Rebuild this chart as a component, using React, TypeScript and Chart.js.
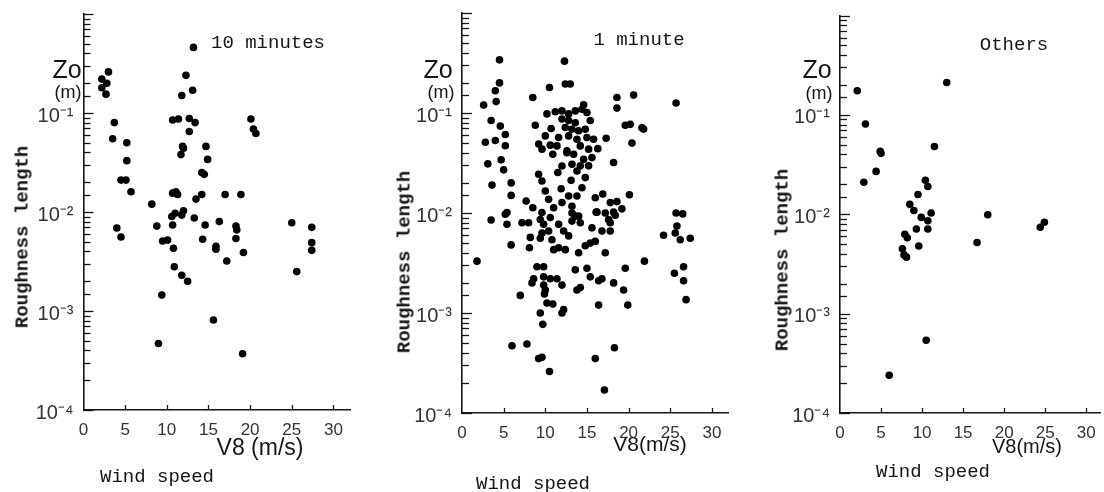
import React, { useEffect, useRef } from "react";
import { Chart, registerables } from "chart.js";
Chart.register(...registerables);

// ---- tick values / labels ----
const speedTicks = [0, 5, 10, 15, 20, 25, 30];
const decadeValues = [1e-4, 1e-3, 1e-2, 1e-1];
const decadeLabels = ["10⁻⁴", "10⁻³", "10⁻²", "10⁻¹"];

// ---- panel 1: 10 minutes ----
const tenMinSpeed = [
  13.2, 3.0, 2.2, 2.8, 2.2, 2.7, 12.3, 13.1, 11.8, 3.7,
  3.5, 10.7, 11.4, 12.7, 13.4, 12.7, 20.1, 20.4, 20.7, 5.2,
  11.9, 12.0, 11.7, 14.7, 14.9, 5.2, 14.2, 14.5, 4.5, 5.1,
  5.7, 8.2, 10.7, 11.3, 11.1, 13.5, 14.2, 17.0, 18.9, 10.6,
  11.0, 12.0, 11.8, 13.3, 4.0, 4.5, 8.8, 10.7, 9.5, 10.1,
  10.8, 14.6, 16.3, 14.3, 15.9, 15.9, 18.3, 18.4, 18.3, 19.2,
  17.2, 25.0, 27.4, 27.4, 27.4, 25.6, 10.9, 11.8, 12.5, 9.4,
  15.6, 9.0, 19.1,
];
const tenMinZ0 = [
  0.46, 0.26, 0.22, 0.2, 0.18, 0.155, 0.24, 0.17, 0.15, 0.08,
  0.055, 0.085, 0.087, 0.088, 0.08, 0.065, 0.087, 0.069, 0.062, 0.05,
  0.046, 0.044, 0.038, 0.046, 0.034, 0.033, 0.025, 0.024, 0.021, 0.021,
  0.016, 0.012, 0.0155, 0.015, 0.016, 0.0135, 0.015, 0.015, 0.015, 0.009,
  0.0097, 0.0103, 0.0093, 0.0087, 0.0069, 0.0056, 0.0072, 0.0074, 0.0051, 0.0052,
  0.0043, 0.0074, 0.008, 0.0053, 0.0045, 0.0042, 0.0072, 0.0066, 0.0054, 0.0039,
  0.0032, 0.0078, 0.007, 0.0049, 0.0041, 0.0025, 0.0028, 0.0023, 0.002, 0.00145,
  0.00081, 0.00047, 0.00037,
];

// ---- panel 2: 1 minute ----
const oneMinSpeed = [
  4.5, 12.3, 4.5, 4.0, 10.5, 12.4, 13.0, 4.1, 2.6, 8.5,
  18.6, 20.6, 18.6, 25.7, 14.6, 3.5, 4.6, 5.2, 2.8, 4.0,
  5.2, 3.1, 4.7, 5.0, 3.6, 5.9, 5.9, 7.7, 8.5, 5.4,
  3.5, 19.6, 20.2, 21.6, 21.8, 20.4, 17.3, 18.2, 15.4, 16.3,
  20.1, 16.9, 16.0, 17.8, 18.6, 19.2, 16.2, 18.2, 25.7, 26.5,
  8.8, 10.7, 10.0, 9.2, 9.6, 10.9, 11.5, 9.2, 9.6, 10.0,
  11.9, 13.1, 13.8, 14.8, 14.4, 13.8, 12.8, 12.0, 10.4, 11.0,
  13.2, 9.6, 13.6, 10.2, 11.2, 12.0, 12.8, 13.6, 14.4, 15.0,
  12.0, 12.8, 13.6, 12.4, 13.2, 14.0, 14.8, 11.6, 12.8, 13.8,
  15.0, 15.8, 11.4, 12.6, 14.2, 15.2, 13.4, 14.6, 15.6, 14.2,
  15.2, 12.6, 10.6, 12.0, 13.2, 5.2, 5.4, 7.2, 8.0, 9.4,
  9.8, 10.6, 9.6, 10.4, 9.4, 10.8, 11.0, 11.6, 12.2, 12.8,
  13.2, 14.2, 13.2, 14.0, 12.4, 11.6, 14.0, 14.8, 15.4, 16.0,
  15.6, 16.1, 17.2, 17.6, 16.8, 17.8, 17.8, 17.2, 5.9, 8.1,
  8.2, 1.8, 21.9, 24.2, 25.8, 25.6, 26.2, 27.4, 26.6, 25.5,
  26.6, 26.9, 9.0, 9.8, 8.6, 8.4, 9.8, 10.6, 11.4, 9.8,
  10.0, 9.9, 12.0, 7.0, 10.2, 10.9, 9.4, 12.2, 12.0, 9.7,
  13.6, 15.0, 15.4, 13.8, 14.2, 16.4, 16.8, 18.2, 19.6, 19.4,
  16.4, 19.9, 6.0, 7.8, 9.2, 9.6, 10.5, 16.0, 18.3, 17.1,
  18.4,
];
const oneMinZ0 = [
  0.34, 0.33, 0.2, 0.167, 0.18, 0.195, 0.195, 0.13, 0.12, 0.143,
  0.143, 0.151, 0.112, 0.126, 0.121, 0.084, 0.074, 0.061, 0.051, 0.053,
  0.047, 0.031, 0.034, 0.027, 0.019, 0.02, 0.015, 0.0132, 0.0113, 0.0101,
  0.0085, 0.0755, 0.077, 0.071, 0.069, 0.05, 0.056, 0.032, 0.084, 0.044,
  0.0152, 0.0155, 0.0142, 0.0127, 0.013, 0.011, 0.0102, 0.0102, 0.01, 0.0098,
  0.0755, 0.07, 0.059, 0.049, 0.0435, 0.0387, 0.0254, 0.0244, 0.0209, 0.0166,
  0.0175, 0.0212, 0.0263, 0.0226, 0.0179, 0.0148, 0.0148, 0.0127, 0.0137, 0.0113,
  0.0117, 0.0101, 0.0093, 0.098, 0.103, 0.105, 0.098, 0.105, 0.109, 0.101,
  0.087, 0.084, 0.08, 0.0716, 0.0689, 0.0664, 0.0689, 0.0569, 0.059, 0.0547,
  0.0569, 0.0547, 0.0469, 0.0418, 0.0469, 0.0435, 0.0387, 0.0344, 0.0358, 0.0296,
  0.0296, 0.04, 0.0477, 0.0295, 0.0307, 0.0097, 0.0077, 0.008, 0.008, 0.0086,
  0.0077, 0.009, 0.0063, 0.0066, 0.0056, 0.0054, 0.0043, 0.0077, 0.0066, 0.0059,
  0.0083, 0.008, 0.01, 0.0093, 0.0043, 0.0045, 0.004, 0.0047, 0.005, 0.0052,
  0.0071, 0.0102, 0.01, 0.0086, 0.0066, 0.0066, 0.008, 0.004, 0.0048, 0.0045,
  0.0057, 0.0033, 0.0033, 0.006, 0.0074, 0.0063, 0.0054, 0.0056, 0.0029, 0.0025,
  0.0021, 0.00136, 0.0029, 0.0029, 0.0022, 0.002, 0.0023, 0.0022, 0.0022, 0.0019,
  0.0017, 0.00155, 0.0019, 0.0015, 0.00126, 0.00123, 0.001, 0.00108, 0.001, 0.00077,
  0.0027, 0.0028, 0.0023, 0.0017, 0.0018, 0.0021, 0.0022, 0.002, 0.0028, 0.0017,
  0.0012, 0.0012, 0.00047, 0.00049, 0.00035, 0.00036, 0.00026, 0.00035, 0.00045, 0.00017,
  0.0095,
];

// ---- panel 3: others ----
const othersSpeed = [
  2.1, 13.0, 3.1, 4.9, 5.0, 11.5, 4.4, 2.9, 10.4, 10.7,
  9.5, 8.5, 9.0, 11.1, 9.9, 10.7, 9.3, 10.7, 7.9, 8.2,
  9.6, 7.6, 7.8, 8.1, 18.0, 16.7, 24.4, 24.9, 10.5, 6.0,
];
const othersZ0 = [
  0.175, 0.212, 0.081, 0.043, 0.041, 0.048, 0.027, 0.021, 0.022, 0.019,
  0.0158, 0.0126, 0.0109, 0.0103, 0.0093, 0.0086, 0.0071, 0.0071, 0.0063, 0.0058,
  0.0048, 0.0045, 0.0039, 0.0037, 0.0099, 0.0052, 0.0074, 0.0083, 0.00054, 0.00024,
];

const H = 492;
const INK = "#151515";
const SANS = "'Liberation Sans', Arial, sans-serif";
const MONO = "'Liberation Mono', 'DejaVu Sans Mono', monospace";

type Spec = {
  left: number;
  width: number;
  areaLeft: number;
  areaTop: number;
  areaBottom: number;
  xMax: number;
  pxPerUnit: number;
  speeds: number[];
  z0: number[];
};

const inwardTicks = {
  id: "inwardTicks",
  afterDraw(chart: any) {
    const { ctx, chartArea, scales } = chart;
    const xs = scales.x;
    const ys = scales.y;
    ctx.save();
    ctx.strokeStyle = INK;
    ctx.lineWidth = 1.3;
    ys.ticks.forEach((t: any) => {
      const lg = Math.log10(t.value);
      const major = Math.abs(lg - Math.round(lg)) < 1e-6;
      const py = Math.round(ys.getPixelForValue(t.value)) + 0.5;
      ctx.beginPath();
      ctx.moveTo(chartArea.left, py);
      ctx.lineTo(chartArea.left + (major ? 10 : 7), py);
      ctx.stroke();
    });
    xs.ticks.forEach((t: any) => {
      if (t.value <= 0) return;
      const px = Math.round(xs.getPixelForValue(t.value)) + 0.5;
      ctx.beginPath();
      ctx.moveTo(px, chartArea.bottom);
      ctx.lineTo(px, chartArea.bottom - 5);
      ctx.stroke();
    });
    ctx.restore();
  },
};

function Panel({ spec }: { spec: Spec }) {
  const ref = useRef<HTMLCanvasElement>(null);
  useEffect(() => {
    const areaRight = spec.areaLeft + spec.xMax * spec.pxPerUnit;
    const chart = new Chart(ref.current as HTMLCanvasElement, {
      type: "scatter",
      data: {
        datasets: [
          {
            data: spec.speeds.map((s, i) => ({ x: s, y: spec.z0[i] })),
            pointRadius: 3.8,
            pointBackgroundColor: "#000",
            pointBorderWidth: 0,
            pointHoverRadius: 3.8,
          },
        ],
      },
      options: {
        responsive: false,
        devicePixelRatio: 1,
        animation: false,
        events: [],
        layout: {
          padding: { left: 0, top: spec.areaTop, right: spec.width - areaRight, bottom: 0 },
        },
        plugins: { legend: { display: false }, tooltip: { enabled: false } },
        scales: {
          x: {
            type: "linear",
            position: "bottom",
            min: 0,
            max: spec.xMax,
            afterBuildTicks: (s: any) => {
              s.ticks = speedTicks.map((v) => ({ value: v }));
            },
            afterFit: (s: any) => {
              s.height = H - spec.areaBottom;
            },
            ticks: {
              autoSkip: false,
              maxRotation: 0,
              padding: 4,
              color: "#333",
              font: { family: SANS, size: 17, lineHeight: 1 },
            },
            grid: { display: false },
            border: { display: true, color: INK, width: 1.6 },
          },
          y: {
            type: "logarithmic",
            position: "left",
            min: 1e-4,
            max: 1,
            afterFit: (s: any) => {
              s.width = spec.areaLeft;
            },
            ticks: {
              autoSkip: false,
              padding: 2,
              labelOffset: 3,
              color: "#333",
              font: { family: SANS, size: 20, lineHeight: 1 },
              callback: (v: any) => {
                const i = decadeValues.findIndex((d) => Math.abs(d - Number(v)) / d < 1e-6);
                return i >= 0 ? decadeLabels[i] : "";
              },
            },
            grid: { display: false },
            border: { display: true, color: INK, width: 1.6 },
          },
        },
      } as any,
      plugins: [inwardTicks],
    });
    return () => chart.destroy();
  }, [spec]);
  return (
    <canvas
      ref={ref}
      width={spec.width}
      height={H}
      style={{ position: "absolute", left: spec.left, top: 0, width: spec.width, height: H }}
    />
  );
}

function Label(props: {
  text: string;
  x: number;
  y: number;
  size: number;
  family?: string;
  weight?: number | string;
  rotate?: boolean;
}) {
  const { text, x, y, size, family = SANS, weight = "normal", rotate = false } = props;
  return (
    <div
      style={{
        position: "absolute",
        left: x,
        top: y,
        transform: `translate(-50%, -50%)${rotate ? " rotate(-90deg)" : ""}`,
        fontFamily: family,
        fontSize: size,
        fontWeight: weight as any,
        lineHeight: 1,
        whiteSpace: "nowrap",
        color: INK,
      }}
    >
      {text}
    </div>
  );
}

const specs: Spec[] = [
  { left: 0, width: 370, areaLeft: 83.5, areaTop: 14, areaBottom: 410, xMax: 32, pxPerUnit: 8.33, speeds: tenMinSpeed, z0: tenMinZ0 },
  { left: 370, width: 370, areaLeft: 92, areaTop: 13, areaBottom: 413, xMax: 32, pxPerUnit: 8.33, speeds: oneMinSpeed, z0: oneMinZ0 },
  { left: 740, width: 364, areaLeft: 100, areaTop: 15.5, areaBottom: 413, xMax: 31.7, pxPerUnit: 8.33, speeds: othersSpeed, z0: othersZ0 },
];

export default function App() {
  return (
    <div style={{ position: "absolute", left: 0, top: 0, width: 1104, height: H, background: "#fff", overflow: "hidden" }}>
      {specs.map((s, i) => (
        <Panel key={i} spec={s} />
      ))}
      {/* panel 1 */}
      <Label text="Zo" x={67} y={69} size={25} />
      <Label text="(m)" x={68} y={92} size={18} />
      <Label text="10 minutes" x={268} y={43} size={19} family={MONO} />
      <Label text="V8 (m/s)" x={260} y={447} size={23} />
      <Label text="Wind speed" x={157} y={477} size={19} family={MONO} />
      <Label text="Roughness length" x={23} y={237} size={19} family={MONO} weight="bold" rotate />
      {/* panel 2 */}
      <Label text="Zo" x={438} y={69} size={25} />
      <Label text="(m)" x={441} y={92} size={18} />
      <Label text="1 minute" x={639} y={40} size={19} family={MONO} />
      <Label text="V8(m/s)" x={650} y={443} size={21} />
      <Label text="Wind speed" x={533} y={484} size={19} family={MONO} />
      <Label text="Roughness length" x={405} y={262} size={19} family={MONO} weight="bold" rotate />
      {/* panel 3 */}
      <Label text="Zo" x={817} y={69} size={25} />
      <Label text="(m)" x={819} y={93} size={18} />
      <Label text="Others" x={1014} y={45} size={19} family={MONO} />
      <Label text="V8(m/s)" x={1027} y={446} size={20} />
      <Label text="Wind speed" x={933} y={472} size={19} family={MONO} />
      <Label text="Roughness length" x={783} y={260} size={19} family={MONO} weight="bold" rotate />
    </div>
  );
}
